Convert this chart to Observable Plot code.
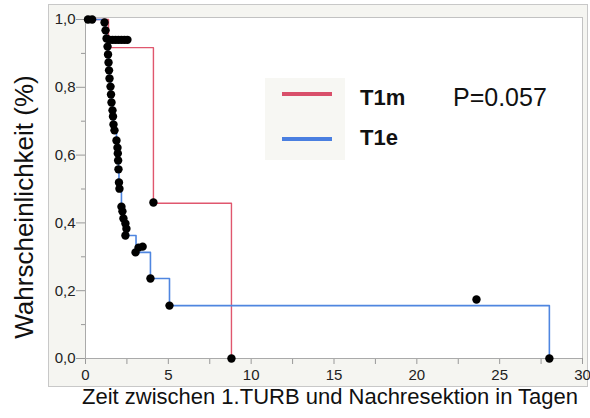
<!DOCTYPE html>
<html>
<head>
<meta charset="utf-8">
<script src="https://cdn.jsdelivr.net/npm/d3@7"></script>
<script src="https://cdn.jsdelivr.net/npm/@observablehq/plot@0.6"></script>
<style>
  html, body { margin: 0; padding: 0; background: #ffffff; }
  #chart { width: 590px; height: 418px; }
</style>
</head>
<body>
<div id="chart"></div>
<script>
// ---- data ----
const redT = [0, 1.39, 4.10, 8.81];
const redS = [1.0, 0.917, 0.458, 0.0];

const blueT = [0, 1.15, 1.21, 1.27, 1.33, 1.36, 1.39, 1.42, 1.45, 1.51, 1.54, 1.57, 1.63, 1.66, 1.69, 1.75, 1.87, 1.93, 1.95, 1.97, 1.99, 2.02, 2.05, 2.17, 2.23, 2.29, 2.41, 2.47, 2.53, 3.05, 3.92, 5.07, 28.0];
const blueS = [1.0, 0.991, 0.968, 0.944, 0.920, 0.897, 0.873, 0.850, 0.826, 0.802, 0.779, 0.755, 0.732, 0.714, 0.690, 0.673, 0.643, 0.622, 0.605, 0.584, 0.558, 0.519, 0.501, 0.448, 0.434, 0.413, 0.398, 0.383, 0.363, 0.313, 0.236, 0.156, 0.0];

const markT = [0.15, 0.40, 1.15, 1.21, 1.27, 1.33, 1.36, 1.39, 1.42, 1.45, 1.51, 1.54, 1.57, 1.63, 1.66, 1.69, 1.75, 1.87, 1.93, 1.95, 1.97, 1.99, 2.02, 2.05, 2.17, 2.23, 2.29, 2.41, 2.47, 2.41, 1.45, 1.63, 1.81, 1.99, 2.17, 2.35, 2.53, 3.20, 3.45, 3.02, 3.92, 5.07, 23.6, 28.0, 4.10, 8.81];
const markS = [1.0, 1.0, 0.991, 0.968, 0.944, 0.920, 0.897, 0.873, 0.850, 0.826, 0.802, 0.779, 0.755, 0.732, 0.714, 0.690, 0.673, 0.643, 0.622, 0.605, 0.584, 0.558, 0.519, 0.501, 0.448, 0.434, 0.413, 0.398, 0.383, 0.363, 0.94, 0.94, 0.94, 0.94, 0.94, 0.94, 0.94, 0.327, 0.330, 0.313, 0.236, 0.156, 0.174, 0.0, 0.46, 0.0];

const xTicks = [0, 5, 10, 15, 20, 25, 30];
const xMinor = [2.5, 7.5, 12.5, 17.5, 22.5, 27.5];
const yTicks = [0, 0.2, 0.4, 0.6, 0.8, 1.0];
const yMinor = [0.1, 0.3, 0.5, 0.7, 0.9];
const yTickLabels = ["0,0", "0,2", "0,4", "0,6", "0,8", "1,0"];

const groups = ["T1m", "T1e"];
const groupColors = ["#e0576e", "#4f86e0"];
const pText = "P=0.057";
const xTitle = "Zeit zwischen 1.TURB und Nachresektion in Tagen";
const yTitle = "Wahrscheinlichkeit (%)";

const red = redT.map((t, i) => ({t, s: redS[i]}));
const blue = blueT.map((t, i) => ({t, s: blueS[i]}));
const marks = markT.map((t, i) => ({t, s: markS[i]}));

const font = "'Liberation Sans', Arial, sans-serif";

const chart = Plot.plot({
  width: 590,
  height: 418,
  marginLeft: 85,
  marginRight: 8,
  marginTop: 19,
  marginBottom: 60,
  style: {background: "transparent", fontFamily: font, color: "#222"},
  x: {domain: [0, 30]},
  y: {domain: [0, 1]},
  marks: [
    Plot.frame({fill: "white", stroke: "#c2c2c2", insetTop: -2}),
    Plot.axisY({ticks: yMinor, tickSize: 4, text: null, stroke: "#999", label: null}),
    Plot.axisY({ticks: yTicks, tickSize: 9, tickPadding: 1, tickFormat: d => yTickLabels[yTicks.indexOf(d)], fontSize: 15, stroke: "#999", label: null}),
    Plot.axisX({ticks: xMinor, tickSize: 6, text: null, stroke: "#999", label: null}),
    Plot.axisX({ticks: xTicks, tickSize: 6, tickPadding: 5, fontSize: 15, stroke: "#999", label: null}),
    Plot.ruleX([0], {stroke: "#aaa"}),
    Plot.ruleY([0], {stroke: "#aaa"}),
    Plot.line(red, {x: "t", y: "s", curve: "step-after", stroke: groupColors[0], strokeWidth: 1.4}),
    Plot.line(blue, {x: "t", y: "s", curve: "step-after", stroke: groupColors[1], strokeWidth: 1.6}),
    Plot.dot(marks, {x: "t", y: "s", r: 4.2, fill: "black", stroke: "none"}),
    Plot.text([xTitle], {frameAnchor: "bottom", dx: -4, dy: 45, fontSize: 22, fill: "#111", text: d => d}),
    Plot.text([yTitle], {frameAnchor: "left", textAnchor: "middle", dx: -61, dy: 18, rotate: -90, fontSize: 26, fill: "#111", text: d => d})
  ]
});

const svg = d3.select(chart);
// outer grey panel behind everything
svg.insert("rect", ":first-child")
  .attr("x", 48.5).attr("y", 4.5).attr("width", 539).attr("height", 382)
  .attr("fill", "#f5f5f1").attr("stroke", "#c8c8c8");

// legend overlay
const lg = svg.append("g").attr("font-family", font).attr("text-anchor", "start");
lg.append("rect").attr("x", 265).attr("y", 78).attr("width", 80).attr("height", 82).attr("fill", "#f7f7f3");
lg.append("line").attr("x1", 282).attr("x2", 332).attr("y1", 94).attr("y2", 94).attr("stroke", "#d9506a").attr("stroke-width", 4);
lg.append("line").attr("x1", 282).attr("x2", 332).attr("y1", 139).attr("y2", 139).attr("stroke", "#4a7fe0").attr("stroke-width", 4);
lg.append("text").attr("x", 360).attr("y", 105).attr("font-size", 22).attr("font-weight", "bold").attr("fill", "#111").text(groups[0]);
lg.append("text").attr("x", 360).attr("y", 145).attr("font-size", 22).attr("font-weight", "bold").attr("fill", "#111").text(groups[1]);
lg.append("text").attr("x", 453).attr("y", 106).attr("font-size", 25).attr("fill", "#111").text(pText);

document.getElementById("chart").appendChild(chart);
</script>
</body>
</html>
